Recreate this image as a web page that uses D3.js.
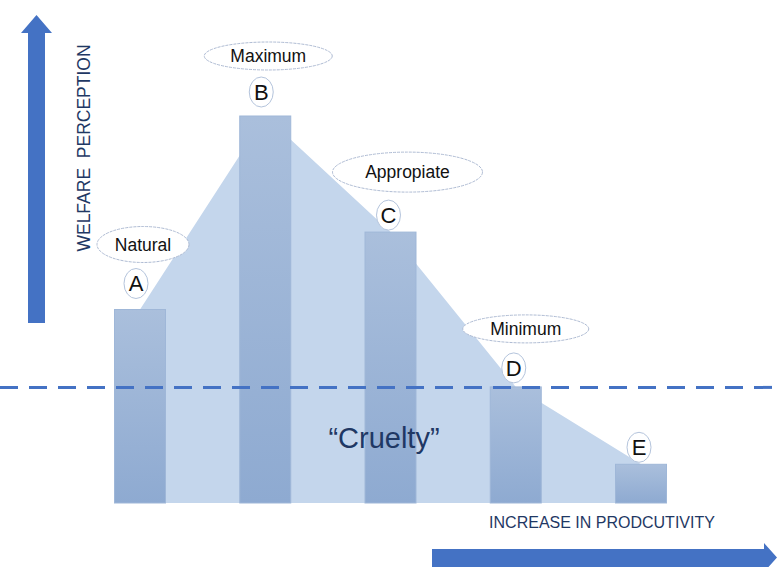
<!DOCTYPE html>
<html>
<head>
<meta charset="utf-8">
<script src="https://cdn.jsdelivr.net/npm/d3@7"></script>
<style>
  html, body { margin: 0; padding: 0; background: #ffffff; }
  svg { display: block; font-family: "Liberation Sans", Arial, sans-serif; }
</style>
</head>
<body>
<svg id="chart" width="777" height="567"></svg>
<script>
// stages of production intensity and the welfare perceived at each one
const stages = ["A", "B", "C", "D", "E"];
const welfare = [50, 100, 70, 30, 10];
const stageNames = ["Natural", "Maximum", "Appropiate", "Minimum", ""];
const crueltyThreshold = 30;

const width = 777;
const height = 567;
const svg = d3.select("#chart");

const x = d3.scalePoint()
    .domain(stages)
    .range([140, 641]);

const y = d3.scaleLinear()
    .domain([0, 100])
    .range([503, 116]);

const barWidth = 51;
const blue = "#4472c4";
const navy = "#1f3864";

const defs = svg.append("defs");
const grad = defs.append("linearGradient")
    .attr("id", "barGrad")
    .attr("x1", 0).attr("y1", 0)
    .attr("x2", 0).attr("y2", 1);
grad.append("stop").attr("offset", "0%").attr("stop-color", "#aabfdc");
grad.append("stop").attr("offset", "100%").attr("stop-color", "#8eaad1");

const rows = stages.map((s, i) => ({ stage: s, value: welfare[i], name: stageNames[i] }));

// light area joining the bar tops
const area = d3.area()
    .x(d => x(d.stage))
    .y0(y(0))
    .y1(d => y(d.value));

svg.append("path")
    .datum(rows)
    .attr("d", area)
    .attr("fill", "#c4d6ec");

svg.selectAll("rect.bar")
    .data(rows)
    .enter()
    .append("rect")
    .attr("class", "bar")
    .attr("x", d => x(d.stage) - barWidth / 2)
    .attr("y", d => y(d.value))
    .attr("width", barWidth)
    .attr("height", d => y(0) - y(d.value))
    .attr("fill", "url(#barGrad)")
    .attr("stroke", "#9fb7d8")
    .attr("stroke-width", 1);

// threshold line
svg.append("line")
    .attr("x1", 0)
    .attr("x2", width)
    .attr("y1", y(crueltyThreshold) + 0.5)
    .attr("y2", y(crueltyThreshold) + 0.5)
    .attr("stroke", blue)
    .attr("stroke-width", 3)
    .attr("stroke-dasharray", "18,11");

svg.append("text")
    .attr("x", 384)
    .attr("y", 448)
    .attr("text-anchor", "middle")
    .style("font-size", "29px")
    .style("fill", navy)
    .text("\u201CCruelty\u201D");

// letter badges above each bar
const letterGap = [26, 24, 17, 19, 17];
const badges = svg.selectAll("g.badge")
    .data(rows)
    .enter()
    .append("g")
    .attr("class", "badge")
    .attr("transform", (d, i) => `translate(${x(d.stage) - 4 + (i > 1 ? 2 : 0)},${y(d.value) - letterGap[i]})`);

badges.append("ellipse")
    .attr("rx", 12)
    .attr("ry", 15)
    .attr("fill", "#ffffff")
    .attr("stroke", "#b4c4dc")
    .attr("stroke-width", 1);

badges.append("text")
    .attr("text-anchor", "middle")
    .attr("dy", "0.36em")
    .style("font-size", "22px")
    .style("fill", "#111")
    .text(d => d.stage);

// name bubbles
const bubble = [
    { dx: 3, dy: 65, rx: 46, ry: 18 },
    { dx: 3, dy: 60, rx: 64, ry: 14 },
    { dx: 17, dy: 60, rx: 75, ry: 20 },
    { dx: 10, dy: 58, rx: 63, ry: 14 }
];

const names = svg.selectAll("g.name")
    .data(rows.filter(d => d.name))
    .enter()
    .append("g")
    .attr("class", "name")
    .attr("transform", (d, i) => `translate(${x(d.stage) + bubble[i].dx},${y(d.value) - bubble[i].dy})`);

names.append("ellipse")
    .attr("rx", (d, i) => bubble[i].rx)
    .attr("ry", (d, i) => bubble[i].ry)
    .attr("fill", "#ffffff")
    .attr("stroke", "#aebbd3")
    .attr("stroke-width", 1)
    .attr("stroke-dasharray", "3,1");

names.append("text")
    .attr("text-anchor", "middle")
    .attr("dy", "0.36em")
    .style("font-size", "17.5px")
    .style("fill", "#111")
    .text(d => d.name);

// vertical axis arrow
svg.append("path")
    .attr("d", "M28,323 L28,33 L21,33 L36.5,15 L52,33 L45,33 L45,323 Z")
    .attr("fill", blue);

svg.append("text")
    .attr("transform", "translate(90,148) rotate(-90)")
    .attr("text-anchor", "middle")
    .style("font-size", "17.5px")
    .style("fill", navy)
    .style("white-space", "pre")
    .attr("xml:space", "preserve")
    .text("WELFARE  PERCEPTION");

// horizontal axis arrow
svg.append("path")
    .attr("d", "M432,549 L764,549 L764,543 L777,557.5 L764,572 L764,567 L432,567 Z")
    .attr("fill", blue);

svg.append("text")
    .attr("x", 602)
    .attr("y", 528)
    .attr("text-anchor", "middle")
    .style("font-size", "16px")
    .style("fill", navy)
    .text("INCREASE IN PRODCUTIVITY");
</script>
</body>
</html>
